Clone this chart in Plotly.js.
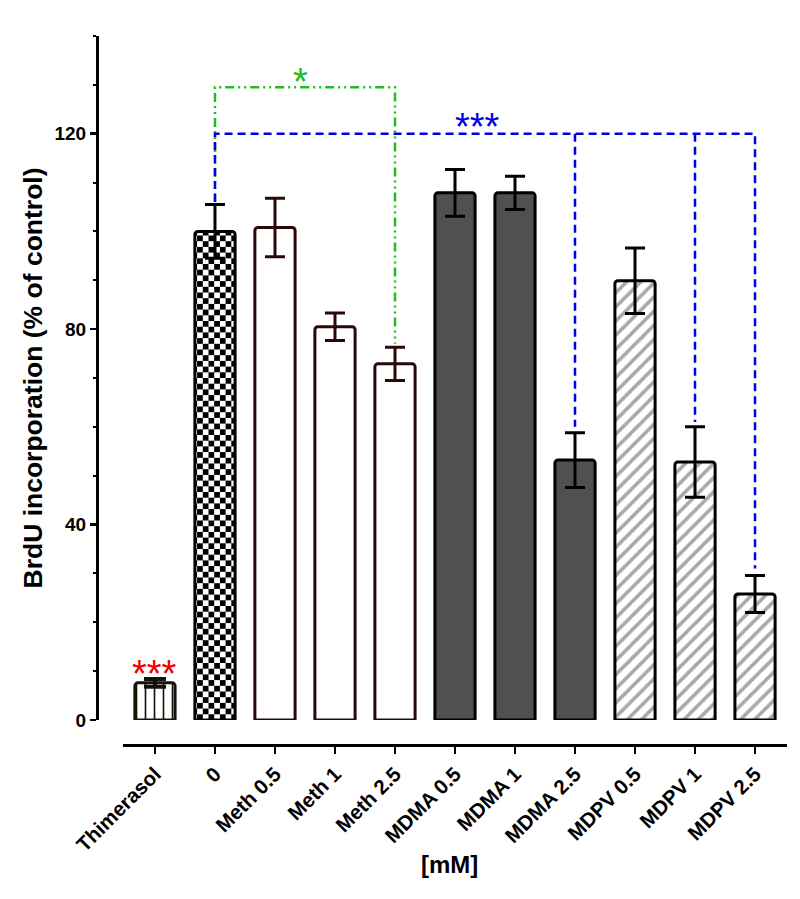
<!DOCTYPE html>
<html>
<head>
<meta charset="utf-8">
<script src="https://cdn.plot.ly/plotly-3.0.1.min.js"></script>
<style>html,body{margin:0;padding:0;background:#fff;}#chart{width:800px;height:899px;}</style>
</head>
<body>
<div id="chart"></div>
<script>
// ---- data ----
const categories = ["Thimerasol","0","Meth 0.5","Meth 1","Meth 2.5","MDMA 0.5","MDMA 1","MDMA 2.5","MDPV 0.5","MDPV 1","MDPV 2.5"];
const groups     = ["Thimerasol","Control","Meth","Meth","Meth","MDMA","MDMA","MDMA","MDPV","MDPV","MDPV"];
const means      = [7.6, 100.0, 100.8, 80.5, 72.9, 107.9, 107.9, 53.2, 89.9, 52.8, 25.8];
const sems       = [0.8, 5.5, 6.0, 2.8, 3.4, 4.8, 3.4, 5.6, 6.7, 7.2, 3.8];
const yTicks     = [0, 40, 80, 120];

// significance brackets
const greenX = ["0","0","Meth 2.5","Meth 2.5"];
const greenY = [106, 129.5, 129.5, 77];
const blueMainX = ["0","0","MDPV 2.5","MDPV 2.5"];
const blueMainY = [106, 120, 120, 31];
const blueDrop1X = ["MDMA 2.5","MDMA 2.5"];
const blueDrop1Y = [120, 60];
const blueDrop2X = ["MDPV 1","MDPV 1"];
const blueDrop2Y = [120, 61];

// ---- styles ----
const styles = {
  Thimerasol: {fill:"#ffffff", line:"#151505", pattern:{shape:"|", fgcolor:"#111", bgcolor:"#fff", size:9, solidity:0.18}, err:"#111", errW:4, errCap:11},
  Control:    {fill:"#ffffff", line:"#000000", pattern:{shape:"+", fgcolor:"#000", bgcolor:"#fff", size:11, solidity:0.5}, err:"#000", errW:3, errCap:10},
  Meth:       {fill:"#ffffff", line:"#2a0808", pattern:null, err:"#2a0808", errW:3, errCap:10},
  MDMA:       {fill:"#505050", line:"#000000", pattern:null, err:"#000", errW:3, errCap:10},
  MDPV:       {fill:"#ffffff", line:"#000000", pattern:{shape:"/", fgcolor:"#a8a8a8", bgcolor:"#fff", size:10, solidity:0.35}, err:"#000", errW:3, errCap:10}
};

const order = ["Thimerasol","Control","Meth","MDMA","MDPV"];
const traces = order.map(g => {
  const idx = groups.map((v,i)=>v===g?i:-1).filter(i=>i>=0);
  const s = styles[g];
  const marker = {color: s.fill, line:{color:s.line, width:3}, cornerradius:3};
  if (s.pattern) marker.pattern = s.pattern;
  return {
    type:"bar", name:g,
    x: idx.map(i=>categories[i]),
    y: idx.map(i=>means[i]),
    width: 0.67,
    marker: marker,
    error_y: {type:"data", array: idx.map(i=>sems[i]), visible:true, color:s.err, thickness:s.errW, width:s.errCap},
    hoverinfo:"x+y", showlegend:false
  };
});

const lineTrace = (x,y,color,dash) => ({type:"scatter", mode:"lines", x:x, y:y, line:{color:color, width:2.5, dash:dash}, hoverinfo:"skip", showlegend:false});
traces.push(lineTrace(greenX, greenY, "#22bb22", "9px,4px,2px,4px,2px,4px"));
traces.push(lineTrace(blueMainX, blueMainY, "#0000e6", "8px,5px"));
traces.push(lineTrace(blueDrop1X, blueDrop1Y, "#0000e6", "8px,5px"));
traces.push(lineTrace(blueDrop2X, blueDrop2Y, "#0000e6", "8px,5px"));

const font = "Liberation Sans, Arial, sans-serif";
const layout = {
  width:800, height:899,
  margin:{l:97, r:13, t:36, b:154},
  paper_bgcolor:"#fff", plot_bgcolor:"#fff",
  barmode:"overlay",
  font:{family:font, color:"#000", size:19},
  xaxis:{
    type:"category", categoryorder:"array", categoryarray:categories,
    domain:[26/690, 1], range:[-0.533, 10.533],
    anchor:"free", position:0,
    showline:true, linewidth:3, linecolor:"#000",
    ticks:"outside", ticklen:7, tickwidth:2.5, tickcolor:"#000",
    tickangle:-45, tickfont:{family:font, size:20.5, weight:"bold", color:"#000"},
    showgrid:false, zeroline:false
  },
  yaxis:{
    range:[0,140], domain:[25/709, 1],
    anchor:"free", position:0,
    showline:true, linewidth:3, linecolor:"#000",
    ticks:"outside", ticklen:6, tickwidth:2.5, tickcolor:"#000",
    tickvals:yTicks, ticktext:yTicks.map(String),
    minor:{dtick:10, tick0:0, ticks:"outside", ticklen:3, tickwidth:2, tickcolor:"#000"},
    tickfont:{family:font, size:19, weight:"bold", color:"#000"},
    showgrid:false, zeroline:false,
    title:{text:"BrdU incorporation (% of control)", font:{family:font, size:26.5, weight:"bold", color:"#000"}, standoff:3}
  },
  annotations:[
    {xref:"paper", yref:"paper", x:(449-97)/690, y:-(864-745)/709, xanchor:"center", yanchor:"middle", text:"[mM]", showarrow:false, font:{family:font, size:24, weight:"bold", color:"#000"}},
    {x:"Thimerasol", y:means[0]+sems[0], yanchor:"bottom", yshift:-18, text:"***", showarrow:false, font:{family:font, size:38, color:"#ee0000"}},
    {x:5.38, y:120, yanchor:"bottom", yshift:-16, text:"***", showarrow:false, font:{family:font, size:38, color:"#0000e6"}},
    {x:2.42, y:129.5, yanchor:"bottom", yshift:-18, text:"*", showarrow:false, font:{family:font, size:38, color:"#22bb22"}}
  ]
};

Plotly.newPlot("chart", traces, layout, {staticPlot:true}).then(() => {
  // turn the control bar's pattern into a checkerboard
  const barTraces = document.querySelectorAll(".barlayer .trace");
  const ctrl = barTraces[1];
  if (!ctrl) return;
  const p = ctrl.querySelector("path");
  if (!p) return;
  const fill = p.style.fill || p.getAttribute("fill") || "";
  const m = fill.match(/#([^"')]+)/);
  if (!m) return;
  const pat = document.getElementById(m[1]);
  if (!pat) return;
  const NS = "http://www.w3.org/2000/svg";
  const s = 5.7;
  pat.setAttribute("width", 2*s); pat.setAttribute("height", 2*s);
  while (pat.firstChild) pat.removeChild(pat.firstChild);
  const mk = (x,y,c,w,h) => { const r=document.createElementNS(NS,"rect"); r.setAttribute("x",x); r.setAttribute("y",y); r.setAttribute("width",w); r.setAttribute("height",h); r.setAttribute("fill",c); pat.appendChild(r); };
  mk(0,0,"#fff",2*s,2*s);
  mk(0,0,"#000",s,s);
  mk(s,s,"#000",s,s);
});
</script>
</body>
</html>
